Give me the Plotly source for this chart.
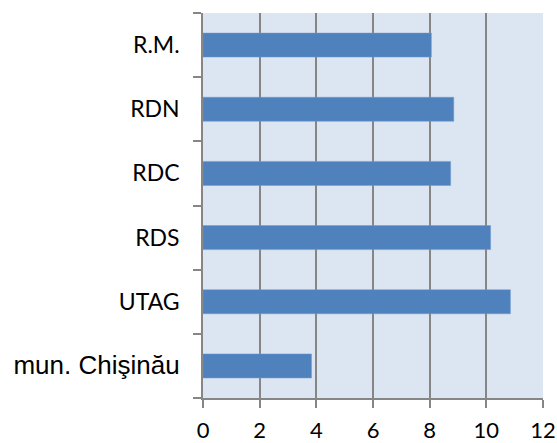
import plotly.graph_objects as go

categories = ["mun. Chişinău", "UTAG", "RDS", "RDC", "RDN", "R.M."]
values = [3.83, 10.85, 10.15, 8.74, 8.85, 8.06]
x_ticks = [0, 2, 4, 6, 8, 10, 12]

label_text = [
    '<span style="font-family:\'Liberation Sans\', Arial; font-size:26px">mun. Chişinău</span>'
    if c == "mun. Chişinău" else c
    for c in categories
]

GRID = "#868686"

fig = go.Figure(
    go.Bar(
        x=values,
        y=categories,
        orientation="h",
        marker=dict(color="#4f81bd", line=dict(color="#6f9ad0", width=0.5)),
        hoverinfo="skip",
    )
)

fig.update_layout(
    width=557,
    height=443,
    margin=dict(l=203, r=14, t=13, b=45),
    paper_bgcolor="white",
    plot_bgcolor="#dce6f2",
    bargap=0.625,
    showlegend=False,
    font=dict(family="Lato", size=23, color="black"),
)

fig.update_xaxes(
    range=[0, 12],
    tickmode="array",
    tickvals=x_ticks,
    ticktext=[str(t) for t in x_ticks],
    showgrid=True,
    gridcolor=GRID,
    gridwidth=1.6,
    zeroline=False,
    showline=True,
    linecolor=GRID,
    linewidth=1.6,
    ticks="outside",
    ticklen=8,
    tickcolor=GRID,
    tickwidth=1.6,
    tickfont=dict(family="Lato", size=22),
    ticklabelstandoff=4,
    automargin=False,
    fixedrange=True,
)

fig.update_yaxes(
    type="category",
    categoryorder="array",
    categoryarray=categories,
    tickmode="array",
    tickvals=categories,
    ticktext=label_text,
    tickson="boundaries",
    showgrid=False,
    zeroline=False,
    showline=True,
    linecolor=GRID,
    linewidth=1.6,
    ticks="outside",
    ticklen=8,
    tickcolor=GRID,
    tickwidth=1.6,
    tickfont=dict(family="Lato", size=23),
    ticklabelstandoff=17,
    automargin=False,
    fixedrange=True,
)

fig.write_html(
    "out.html",
    config={"displayModeBar": False},
    post_script="document.body.style.margin='0';document.body.style.overflow='hidden';",
)
